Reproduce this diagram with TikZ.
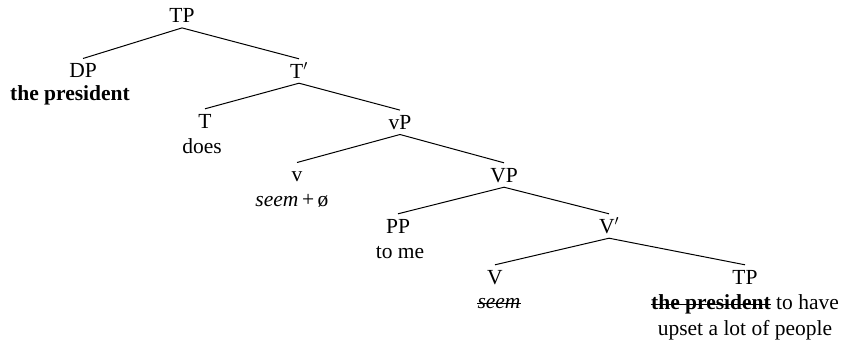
\documentclass[tikz,border=0pt]{standalone}
\usepackage{fontspec}
\setmainfont{Liberation Serif}
\begin{document}
\begin{tikzpicture}[x=1pt,y=-1pt,
  cat/.style={anchor=base,inner xsep=0pt,inner ysep=5pt,text height=14pt,text depth=0pt,font=\fontsize{21.5}{25}\selectfont},
  word/.style={anchor=base,inner sep=0pt,font=\fontsize{21.5}{25}\selectfont},
  branch/.style={line width=1pt},
  strike/.style={line width=1.4pt}]
\useasboundingbox (0,0) rectangle (846,343);
% categories
\node[cat] (tp)  at (182,22.7) {TP};
\node[cat] (dp)  at (83,77.7)  {DP};
\node[cat] (tb)  at (299,78)   {T$'$};
\node[cat] (t)   at (205,128)  {T};
\node[cat] (vp)  at (400,129.3){vP};
\node[cat] (v)   at (297,181.7){v};
\node[cat] (VP)  at (504,182)  {VP};
\node[cat] (pp)  at (398,233)  {PP};
\node[cat] (vb)  at (609,233)  {V$'$};
\node[cat] (V)   at (495,284)  {V};
\node[cat] (tp2) at (745,284)  {TP};
% words
\node[word] (w1) at (70,100.7) {\textbf{the president}};
\node[word] (w2) at (202,153)  {does};
\node[word] (w3) at (292,206)  {\textit{seem}\,+\,ø};
\node[word] (w4) at (400,258)  {to me};
\node[word] (w5) at (499,308)  {\textit{seem}};
\node[word] (w6) at (745,309)  {\textbf{the president} to have};
\node[word,anchor=base west] (w6s) at (w6.base west) {\phantom{\textbf{the president}}};
\node[word] (w7) at (745,335)  {upset a lot of people};
% strike-through lines
\draw[strike] ([yshift=4.5pt]w5.base west) -- ([yshift=4.5pt]w5.base east);
\draw[strike] ([yshift=4.5pt]w6s.base west) -- ([yshift=4.5pt]w6s.base east);
% branches
\draw[branch] (tp.south) -- (dp.north);
\draw[branch] (tp.south) -- (tb.north);
\draw[branch] (tb.south) -- (t.north);
\draw[branch] (tb.south) -- (vp.north);
\draw[branch] (vp.south) -- (v.north);
\draw[branch] (vp.south) -- (VP.north);
\draw[branch] (VP.south) -- (pp.north);
\draw[branch] (VP.south) -- (vb.north);
\draw[branch] (vb.south) -- (V.north);
\draw[branch] (vb.south) -- (tp2.north);
\end{tikzpicture}
\end{document}
